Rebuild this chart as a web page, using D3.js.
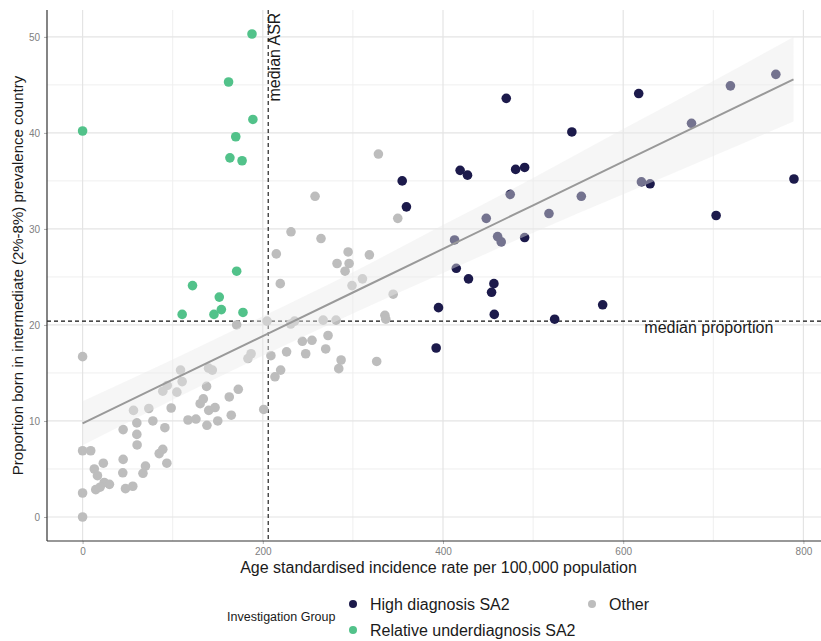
<!DOCTYPE html>
<html>
<head>
<meta charset="utf-8">
<script src="https://cdn.jsdelivr.net/npm/d3@7"></script>
<style>
  body { margin: 0; background: #fff; }
  text { font-family: "Liberation Sans", Arial, sans-serif; }
</style>
</head>
<body>
<div id="chart"></div>
<script>
// groups and their points [asr, proportion]
const groupNames = ['High diagnosis SA2', 'Relative underdiagnosis SA2', 'Other'];
const groupColors = ['#1c1a4b', '#52c28a', '#bdbdbd'];

const highDiagnosis = [
  [354.7, 35.0], [359.4, 32.3], [470.2, 43.6], [543, 40.1], [419, 36.1], [427.2, 35.6],
  [480.6, 36.2], [490.6, 36.4], [474.6, 33.6], [448, 31.1], [517.6, 31.6], [553.5, 33.4],
  [412.8, 28.85], [460.6, 29.2], [464.6, 28.65], [490.6, 29.1], [414.7, 25.9], [428.3, 24.8],
  [456.5, 24.3], [453.9, 23.4], [395, 21.8], [456.9, 21.1], [523.9, 20.6], [577.2, 22.1],
  [392.4, 17.6], [617.2, 44.1], [719, 44.9], [769.4, 46.1], [675.8, 41.0], [620.2, 34.9],
  [629.8, 34.7], [789.5, 35.2], [703.1, 31.4]
];

const underDiagnosis = [
  [0, 40.2], [188, 50.3], [162, 45.3], [189, 41.4], [170, 39.6], [163.5, 37.4], [177, 37.1],
  [171, 25.6], [122, 24.1], [151.7, 22.9], [110.5, 21.1], [145.8, 21.1], [154, 21.6], [178, 21.3]
];

const otherAreas = [
  [215, 27.4], [171, 20.0], [204.7, 20.4], [0, 16.7], [209, 16.8], [187, 17.0], [183.5, 16.5],
  [213.5, 14.6], [108.7, 15.3], [110.5, 14.1], [104.6, 13.0], [89, 13.1], [94, 13.7],
  [137.6, 13.6], [139.8, 15.5], [144, 15.3], [172.8, 13.3], [162.8, 12.5], [130.5, 11.8],
  [134, 12.3], [140, 11.1], [147, 11.4], [165, 10.6], [150, 10.0], [117, 10.1], [125.8, 10.2],
  [138, 9.55], [98.3, 11.35], [73.5, 11.3], [56.5, 11.1], [78, 10.0], [60.2, 9.8], [45, 9.1],
  [91.3, 9.3], [60.2, 8.6], [60.5, 7.5], [0, 6.9], [9, 6.9], [89, 7.05], [85, 6.6], [93.5, 5.6],
  [23, 5.6], [13, 5.0], [16.5, 4.3], [45, 6.0], [44.6, 4.6], [69.8, 5.3], [67, 4.55], [24, 3.6],
  [29.8, 3.4], [14.6, 2.85], [19.4, 3.1], [47.6, 2.95], [55.7, 3.2], [0, 2.5], [0, 0], [201, 11.2],
  [328.3, 37.8], [349.8, 31.1], [258, 33.4], [231.3, 29.7], [264.6, 29.0], [294.7, 27.6],
  [282.4, 26.4], [295.8, 26.4], [291.3, 25.6], [318.3, 27.3], [219.4, 24.3], [310.6, 24.8],
  [299, 24.1], [344.7, 23.2], [335.5, 21.0], [336.5, 20.6], [267, 20.5], [281.3, 20.5],
  [235.3, 20.4], [231, 20.1], [243.9, 18.3], [254.6, 18.4], [272.4, 18.9], [269.8, 17.5],
  [226.4, 17.2], [247.6, 17.0], [286.9, 16.35], [284.3, 15.45], [326.4, 16.2], [219.8, 15.3]
];

// fitted line and confidence band
const fitX  = [0, 100, 200, 300, 400, 500, 600, 700, 789];
const fitY  = [9.76, 14.3, 18.84, 23.38, 27.92, 32.46, 37.0, 41.54, 45.58];
const fitLo = [7.46, 12.2, 16.8, 21.2, 25.4, 29.6, 33.6, 37.6, 41.2];
const fitHi = [12.06, 16.4, 20.9, 25.5, 30.4, 35.3, 40.4, 45.4, 50.0];

const medianASR = 206;
const medianProportion = 20.4;

const xTicks = [0, 200, 400, 600, 800];
const xMinor = [100, 300, 500, 700];
const yTicks = [0, 10, 20, 30, 40, 50];
const yMinor = [5, 15, 25, 35, 45];

const width = 821, height = 641;
const panel = { left: 47, right: 830, top: 10, bottom: 541 };

const xScale = d3.scaleLinear().domain([-39.5, 829.5]).range([panel.left, panel.right]);
const yScale = d3.scaleLinear().domain([-2.5, 52.8]).range([panel.bottom, panel.top]);

const svg = d3.select('#chart').append('svg')
  .attr('width', width).attr('height', height);

svg.append('defs').append('clipPath').attr('id', 'clip')
  .append('rect')
  .attr('x', panel.left).attr('y', panel.top)
  .attr('width', panel.right - panel.left).attr('height', panel.bottom - panel.top);

const plot = svg.append('g').attr('clip-path', 'url(#clip)');

// grid
plot.selectAll('.xminor').data(xMinor).join('line')
  .attr('x1', d => xScale(d)).attr('x2', d => xScale(d))
  .attr('y1', panel.top).attr('y2', panel.bottom)
  .attr('stroke', '#efefef').attr('stroke-width', 1);
plot.selectAll('.yminor').data(yMinor).join('line')
  .attr('y1', d => yScale(d)).attr('y2', d => yScale(d))
  .attr('x1', panel.left).attr('x2', panel.right)
  .attr('stroke', '#efefef').attr('stroke-width', 1);
plot.selectAll('.xmajor').data(xTicks).join('line')
  .attr('x1', d => xScale(d)).attr('x2', d => xScale(d))
  .attr('y1', panel.top).attr('y2', panel.bottom)
  .attr('stroke', '#e4e4e4').attr('stroke-width', 1.2);
plot.selectAll('.ymajor').data(yTicks).join('line')
  .attr('y1', d => yScale(d)).attr('y2', d => yScale(d))
  .attr('x1', panel.left).attr('x2', panel.right)
  .attr('stroke', '#e4e4e4').attr('stroke-width', 1.2);

// median reference lines
plot.append('line')
  .attr('x1', xScale(medianASR)).attr('x2', xScale(medianASR))
  .attr('y1', panel.top).attr('y2', panel.bottom)
  .attr('stroke', '#111').attr('stroke-width', 1.1).attr('stroke-dasharray', '4,3');
plot.append('line')
  .attr('x1', panel.left).attr('x2', panel.right)
  .attr('y1', yScale(medianProportion)).attr('y2', yScale(medianProportion))
  .attr('stroke', '#111').attr('stroke-width', 1.1).attr('stroke-dasharray', '4,3');

// points
const groups = [highDiagnosis, underDiagnosis, otherAreas];
groups.forEach((pts, gi) => {
  plot.append('g').selectAll('circle').data(pts).join('circle')
    .attr('cx', d => xScale(d[0]))
    .attr('cy', d => yScale(d[1]))
    .attr('r', 4.8)
    .attr('fill', groupColors[gi]);
});

// confidence band drawn on top, as in the original
const fitData = fitX.map((x, i) => ({ x, y: fitY[i], lo: fitLo[i], hi: fitHi[i] }));
const bandGen = d3.area()
  .x(d => xScale(d.x))
  .y0(d => yScale(d.lo))
  .y1(d => yScale(d.hi))
  .curve(d3.curveMonotoneX);
plot.append('path')
  .attr('d', bandGen(fitData))
  .attr('fill', '#ebebeb')
  .attr('opacity', 0.43);

const lineGen = d3.line()
  .x(d => xScale(d.x))
  .y(d => yScale(d.y));
plot.append('path')
  .attr('d', lineGen(fitData))
  .attr('fill', 'none')
  .attr('stroke', '#999')
  .attr('stroke-width', 2);

// annotations
plot.append('text')
  .text('median ASR')
  .attr('transform', `translate(${xScale(212.5)}, ${yScale(47.9)}) rotate(-90)`)
  .attr('text-anchor', 'middle')
  .attr('dominant-baseline', 'central')
  .style('font-size', '16px')
  .attr('fill', '#1a1a1a');
plot.append('text')
  .text('median proportion')
  .attr('x', xScale(695)).attr('y', yScale(19.7))
  .attr('text-anchor', 'middle')
  .attr('dominant-baseline', 'central')
  .style('font-size', '16px')
  .attr('fill', '#1a1a1a');

// axes
const xAxis = d3.axisBottom(xScale).tickValues(xTicks).tickSize(3).tickPadding(4);
const yAxis = d3.axisLeft(yScale).tickValues(yTicks).tickSize(3).tickPadding(4);

const gx = svg.append('g')
  .attr('transform', `translate(0, ${panel.bottom})`)
  .call(xAxis);
gx.select('.domain').remove();
gx.selectAll('.tick line').attr('stroke', '#b0b0b0');
gx.selectAll('.tick text').attr('fill', '#808080').style('font-size', '10px');

const gy = svg.append('g')
  .attr('transform', `translate(${panel.left}, 0)`)
  .call(yAxis);
gy.select('.domain').remove();
gy.selectAll('.tick line').attr('stroke', '#b0b0b0');
gy.selectAll('.tick text').attr('fill', '#808080').style('font-size', '10px');

svg.append('line')
  .attr('x1', panel.left).attr('x2', width)
  .attr('y1', panel.bottom).attr('y2', panel.bottom)
  .attr('stroke', '#333').attr('stroke-width', 1.2);
svg.append('line')
  .attr('x1', panel.left).attr('x2', panel.left)
  .attr('y1', panel.top).attr('y2', panel.bottom)
  .attr('stroke', '#333').attr('stroke-width', 1.2);

// axis titles
svg.append('text')
  .text('Age standardised incidence rate per 100,000 population')
  .attr('x', (panel.left + panel.right) / 2)
  .attr('y', 573)
  .attr('text-anchor', 'middle')
  .style('font-size', '16px')
  .attr('fill', '#1a1a1a');

svg.append('text')
  .text('Proportion born in intermediate (2%-8%) prevalence country')
  .attr('transform', `translate(23, ${(panel.top + panel.bottom) / 2}) rotate(-90)`)
  .attr('text-anchor', 'middle')
  .style('font-size', '15px')
  .attr('fill', '#1a1a1a');

// legend
const legend = svg.append('g');
legend.append('text')
  .text('Investigation Group')
  .attr('x', 227).attr('y', 621)
  .style('font-size', '12.5px')
  .attr('fill', '#1a1a1a');

const legendPos = [[353, 604], [353, 630], [592, 604]];
groupNames.forEach((name, i) => {
  legend.append('circle')
    .attr('cx', legendPos[i][0]).attr('cy', legendPos[i][1])
    .attr('r', 4)
    .attr('fill', groupColors[i]);
  legend.append('text')
    .text(name)
    .attr('x', legendPos[i][0] + 17).attr('y', legendPos[i][1])
    .attr('dominant-baseline', 'central')
    .style('font-size', '16px')
    .attr('fill', '#1a1a1a');
});
</script>
</body>
</html>
